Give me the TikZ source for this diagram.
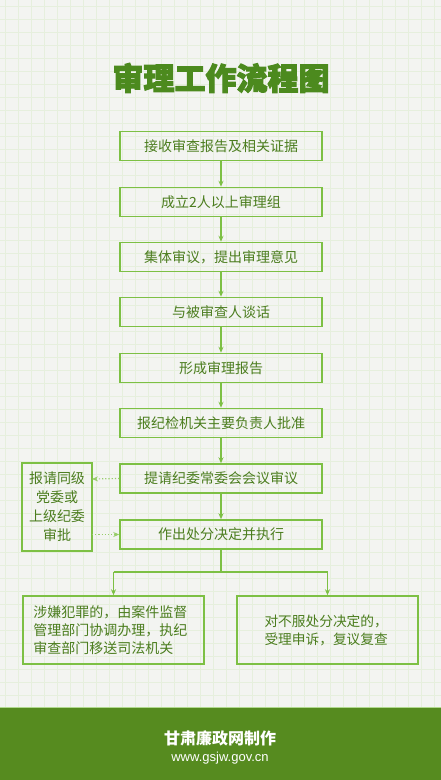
\documentclass[tikz,border=0pt]{standalone}
\usepackage{fontspec}
\setmainfont{Noto Sans CJK SC}
\newfontfamily\latinf{Liberation Sans}
\usetikzlibrary{arrows.meta}
\definecolor{bgc}{HTML}{F3F4F1}
\definecolor{gridc}{HTML}{E6EFDD}
\definecolor{boxc}{HTML}{7DC044}
\definecolor{txtc}{HTML}{4B7D1E}
\definecolor{titlec}{HTML}{4C8A1E}
\definecolor{footc}{HTML}{568B1F}
\tikzset{
  mainbox/.style={draw=boxc, line width=1.5pt, minimum width=202pt, minimum height=29pt, inner sep=0pt, text=txtc, font=\fontsize{14}{16}\selectfont},
  sidebox/.style={draw=boxc, line width=1.5pt, inner sep=0pt, text=txtc, font=\fontsize{14}{19}\selectfont},
  flow/.style={draw=boxc, line width=1.2pt, -{Stealth[length=6pt,width=5pt]}},
  dotflow/.style={draw=boxc!80, line width=1.2pt, dotted, -{Stealth[length=6pt,width=5pt]}},
  branch/.style={draw=boxc, line width=1.2pt},
  ttl/.style={font=\fontsize{31}{33}\selectfont\bfseries}
}
\begin{document}
\begin{tikzpicture}[x=1pt,y=-1pt]
\useasboundingbox (0,0) rectangle (441,780);
\fill[bgc] (0,0) rectangle (441,780);
\foreach \gx in {5,18,...,441} \draw[gridc, line width=0.6pt] (\gx,0) -- (\gx,707);
\foreach \gy in {6,19,...,707} \draw[gridc, line width=0.6pt] (0,\gy) -- (441,\gy);

% title
\node[ttl, text=titlec] (title) at (221,78) {\special{pdf:literal direct 0.298 0.541 0.118 RG 1.0 w 2 Tr}审理工作流程图\special{pdf:literal direct 0 Tr}};

% main boxes
\node[mainbox] (b1) at (221,146) {接收审查报告及相关证据};
\node[mainbox] (b2) at (221,202) {成立2人以上审理组};
\node[mainbox] (b3) at (221,257) {集体审议，提出审理意见};
\node[mainbox] (b4) at (221,312) {与被审查人谈话};
\node[mainbox] (b5) at (221,368) {形成审理报告};
\node[mainbox] (b6) at (221,423) {报纪检机关主要负责人批准};
\node[mainbox] (b7) at (221,478.5) {提请纪委常委会会议审议};
\node[mainbox] (b8) at (221,534.5) {作出处分决定并执行};

\foreach \a/\b in {b1/b2,b2/b3,b3/b4,b4/b5,b5/b6,b6/b7,b7/b8}
  \draw[flow] (\a.south) -- (\b.north);

% side box
\node[sidebox, minimum width=70pt, minimum height=88pt, align=center] (side) at (57,507) {报请同级\\党委或\\上级纪委\\审批};
\coordinate (s1) at (92,479);
\coordinate (s2) at (92,534.5);
\draw[dotflow] (b7.west) -- (s1);
\draw[dotflow] (s2) -- (b8.west);

% bottom boxes
\node[sidebox, minimum width=181pt, minimum height=68pt] (bl) at (113.5,630)
  {\parbox{160pt}{\fontsize{14}{18}\selectfont 涉嫌犯罪的，由案件监督\\管理部门协调办理，执纪\\审查部门移送司法机关}};
\node[sidebox, minimum width=181pt, minimum height=68pt] (br) at (327.5,630)
  {\parbox{126pt}{\fontsize{13.7}{18}\selectfont 对不服处分决定的，\\受理申诉，复议复查}};

\coordinate (j) at (221,572);
\coordinate (jl) at (113.5,572);
\coordinate (jr) at (327.5,572);
\draw[branch] (b8.south) -- (j);
\draw[branch] (jl) -- (jr);
\draw[flow] (jl) -- (bl.north);
\draw[flow] (jr) -- (br.north);

% footer
\fill[footc] (0,707) rectangle (441,780);
\draw[boxc!60, line width=0.8pt] (0,707) -- (441,707);
\node[text=white, font=\fontsize{16}{18}\selectfont\bfseries] (f1) at (220,738) {甘肃廉政网制作};
\node[text=white, font=\latinf\fontsize{13}{15}\selectfont] (f2) at (220,758) {www.gsjw.gov.cn};
\end{tikzpicture}
\end{document}
